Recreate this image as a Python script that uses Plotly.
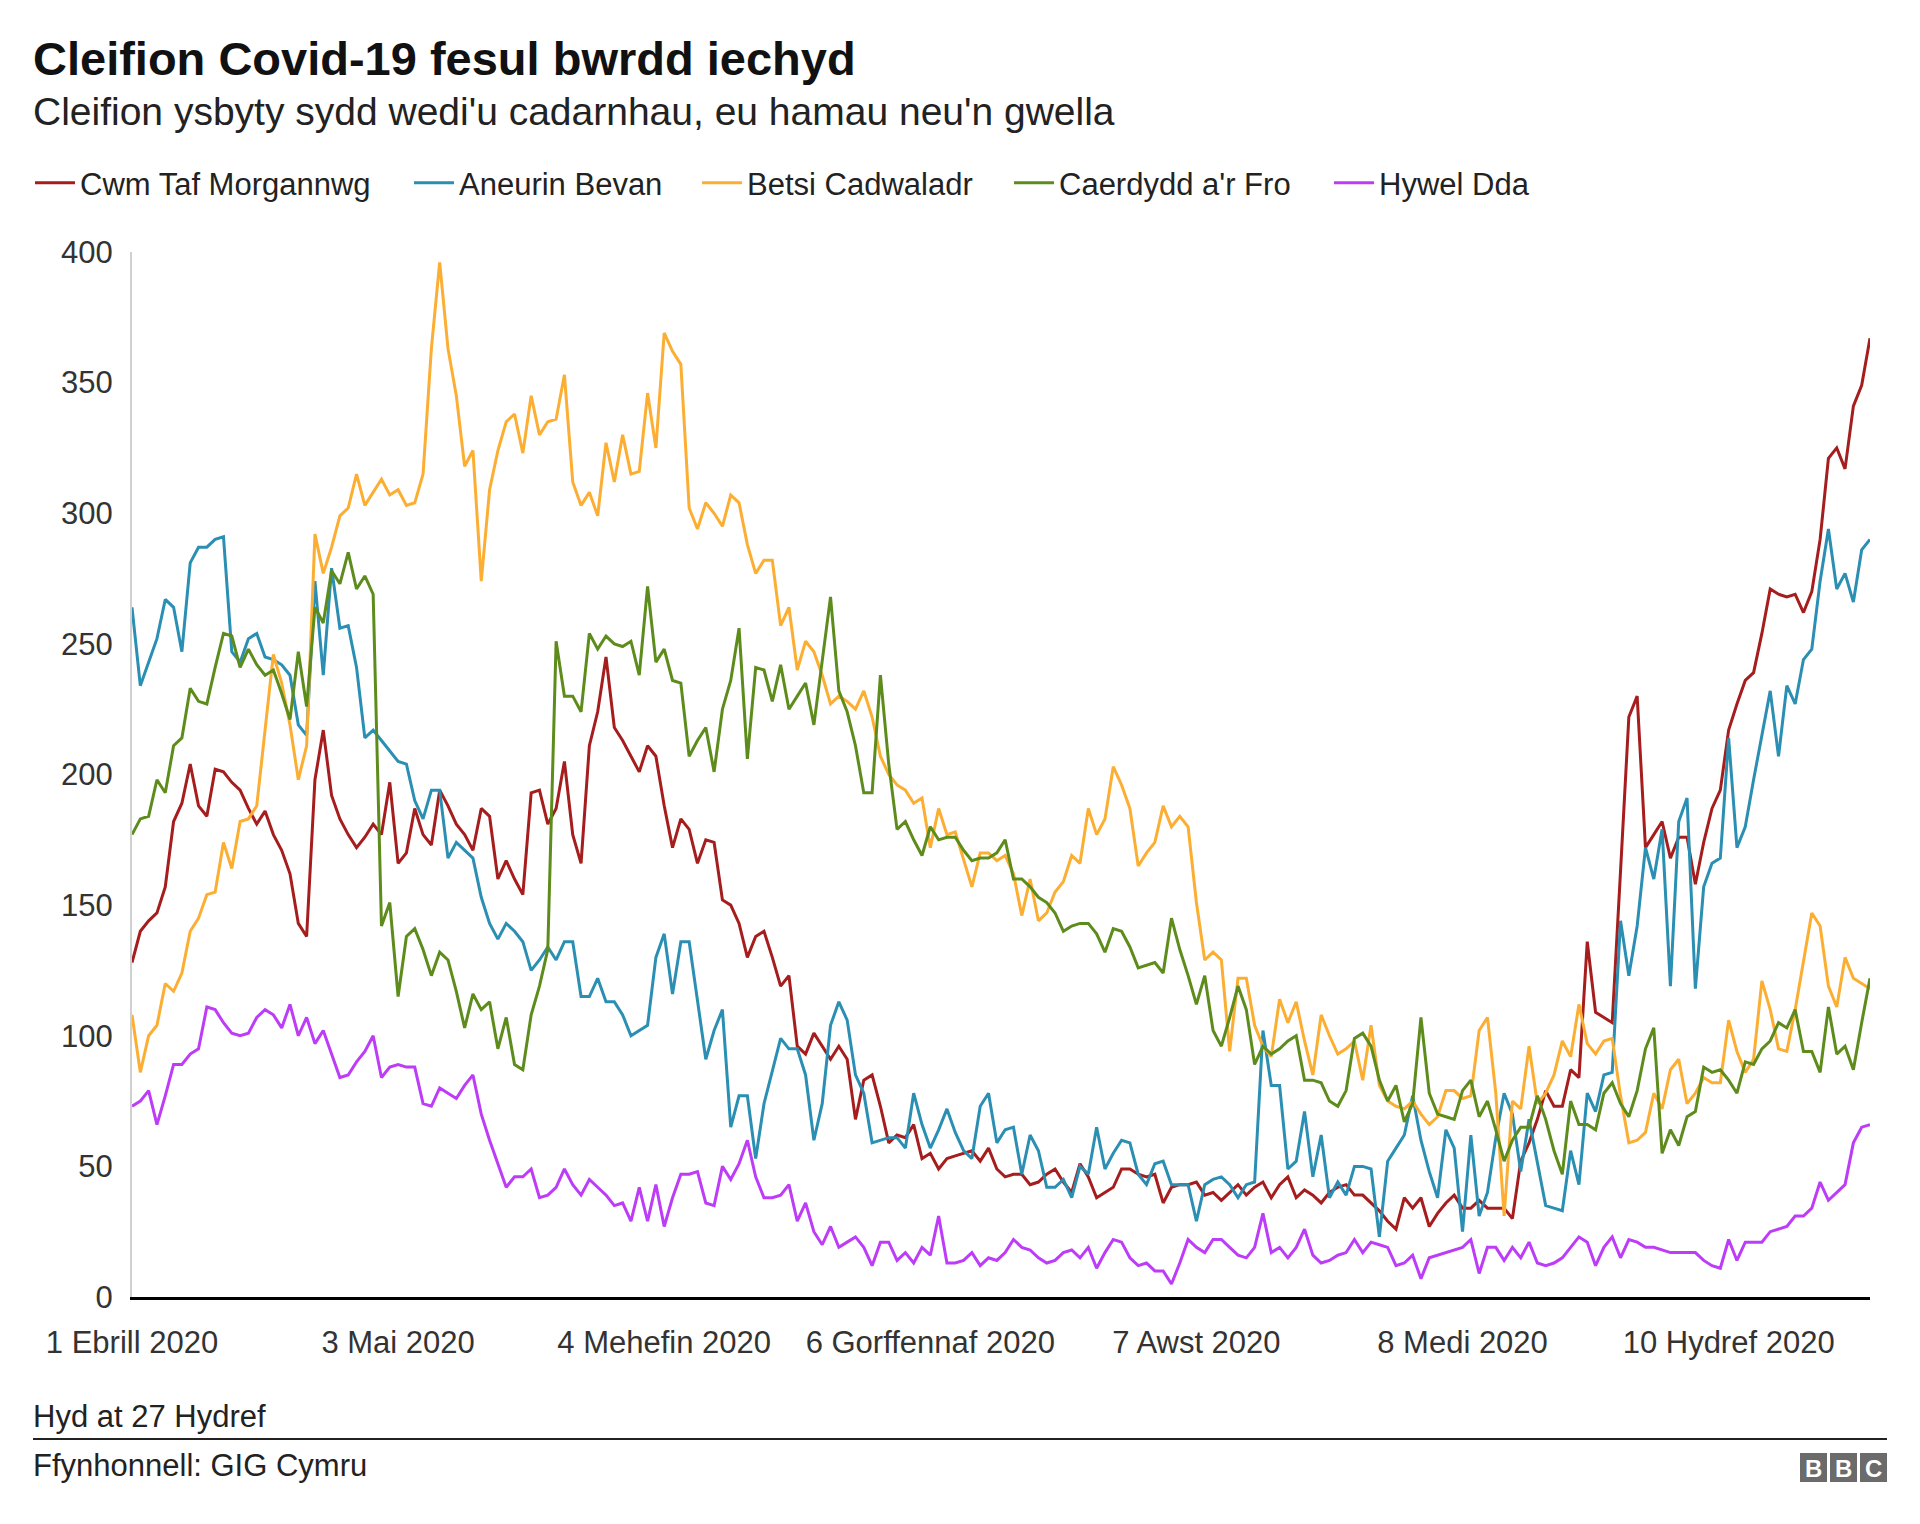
import pandas as pd
import plotly.graph_objects as go

# ---------------- data ----------------
start_date = "2020-04-01"
n_days = 210
dates = pd.date_range(start_date, periods=n_days, freq="D")

series_names = ["Cwm Taf Morgannwg", "Aneurin Bevan", "Betsi Cadwaladr",
                "Caerdydd a'r Fro", "Hywel Dda"]

cwm_taf = [128, 140, 144, 147, 157, 182, 189, 204, 188, 184, 202, 201, 197, 194, 187, 181, 186, 177, 171, 162, 143, 138, 198, 217, 192, 183, 177,
           172, 176, 181, 177, 197, 166, 170, 187, 177, 173, 194, 188, 181, 177, 171, 187, 184, 160, 167, 160, 154, 193, 194, 181, 187, 205,
           177, 166, 211, 224, 245, 218, 213, 207, 201, 211, 207, 188, 172, 183, 179, 166, 175, 174, 152, 150, 143, 130, 138, 140, 130, 119, 123,
           96, 93, 101, 96, 91, 96, 91, 68, 83, 85, 73, 59, 62, 61, 66, 53, 55, 49, 53, 54, 55, 56, 52, 57, 49, 46,
           47, 47, 43, 44, 47, 49, 44, 40, 51, 46, 38, 40, 42, 49, 49, 47, 46, 47, 36, 42, 43, 43, 44, 39, 40, 37, 40,
           43, 39, 42, 44, 38, 43, 46, 38, 41, 39, 36, 40, 42, 43, 39, 39, 36, 33, 29, 26, 38, 34, 38, 27, 32, 36,
           39, 34, 34, 37, 34, 34, 34, 30, 52, 59, 68, 79, 73, 73, 87, 84, 136, 109, 107, 105,
           163, 222, 230, 172, 177, 182, 168,
           176, 176, 158, 174, 187, 194, 217, 227, 236, 239, 254, 271, 269, 268, 269, 262, 270, 290, 321, 325, 317, 341, 349, 367]

aneurin_bevan = [264, 234, 243, 252, 267, 264, 247, 281, 287, 287, 290, 291, 247, 243, 252, 254, 245, 244, 242, 238, 219, 215, 274, 238, 279, 256, 257,
                 241, 214, 217, 213, 209, 205, 204, 190, 183, 194, 194, 168, 174, 171, 168, 153, 143, 137, 143, 140, 136, 125, 129, 134, 129, 136,
                 136, 115, 115, 122, 113, 113, 108, 100, 102, 104, 130, 139, 116, 136, 136, 113, 91, 102, 110, 65, 77, 77, 53, 74, 87, 99, 95,
                 95, 85, 60, 74, 104, 113, 106, 85, 78, 59, 60, 61, 61, 57, 78, 66, 57, 64, 72, 63, 56, 53, 73, 78, 59, 64,
                 65, 47, 62, 56, 42, 42, 45, 38, 50, 47, 65, 49, 55, 60, 59, 47, 43, 51, 52, 43, 43, 43, 29, 43, 45, 46, 43,
                 38, 43, 44, 102, 81, 81, 49, 52, 71, 46, 62, 38, 44, 39, 50, 50, 49, 23, 52, 57, 62, 77, 60, 48, 38, 64,
                 57, 25, 62, 31, 40, 61, 78, 70, 48, 68, 52, 35, 34, 33, 56, 43, 78, 71, 85, 86,
                 144, 123, 142, 172, 160, 179, 119,
                 182, 191, 118, 157, 166, 168, 214, 172, 180, 198, 215, 232, 207, 234, 227, 244, 248, 274, 294, 271, 277, 266, 286, 290]

betsi_cadwaladr = [108, 86, 100, 104, 120, 117, 124, 140, 145, 154, 155, 174, 164, 182, 183, 188, 217, 246, 235, 219, 198, 211, 292, 277, 287, 299, 302,
                   315, 303, 308, 313, 307, 309, 303, 304, 315, 363, 396, 363, 345, 318, 324, 274, 309, 324, 335, 338, 323, 345, 330, 335, 336, 353,
                   312, 303, 308, 299, 327, 312, 330, 315, 316, 346, 325, 369, 362, 357, 302, 294, 304, 300, 295, 307, 304, 288, 277, 282, 282, 257, 264,
                   240, 251, 247, 238, 227, 230, 228, 225, 232, 222, 207, 200, 196, 194, 189, 191, 172, 187, 177, 178, 167, 157, 170, 170, 167, 169,
                   162, 146, 160, 144, 147, 155, 159, 169, 166, 187, 177, 183, 203, 196, 187, 165, 170, 174, 188, 180, 184, 180, 151, 129, 132, 129, 94,
                   122, 122, 104, 96, 92, 114, 105, 113, 98, 85, 108, 100, 93, 95, 98, 83, 104, 81, 75, 73, 72, 75, 70, 66, 69, 79,
                   79, 76, 77, 102, 107, 78, 31, 75, 72, 96, 74, 78, 85, 98, 92, 112, 97, 93, 98, 99,
                   77, 59, 60, 63, 78, 72, 87,
                   91, 74, 78, 84, 82, 82, 106, 94, 86, 91, 121, 110, 95, 94, 110, 129, 147, 142, 119, 111, 130, 122, 120, 118]

caerdydd_a_r_fro = [177, 183, 184, 198, 193, 211, 214, 233, 228, 227, 241, 254, 253, 241, 248, 242, 238, 240, 231, 221, 247, 226, 264, 258, 278, 273, 285,
                    271, 276, 269, 142, 151, 115, 138, 141, 133, 123, 132, 129, 117, 103, 116, 110, 113, 95, 107, 89, 87, 108, 119, 133, 251, 230,
                    230, 224, 254, 248, 253, 250, 249, 251, 238, 272, 243, 248, 236, 235, 207, 213, 218, 201, 225, 236, 256, 206, 241, 240, 228, 242, 225,
                    230, 235, 219, 244, 268, 232, 224, 211, 193, 193, 238, 204, 179, 182, 175, 169, 180, 175, 176, 176, 171, 167, 168, 168, 170, 175,
                    160, 160, 157, 153, 151, 147, 140, 142, 143, 143, 139, 132, 141, 140, 134, 126, 127, 128, 124, 145, 133, 123, 112, 123, 102, 96, 107,
                    119, 110, 89, 96, 93, 95, 98, 100, 83, 83, 82, 75, 73, 79, 99, 101, 96, 83, 75, 81, 67, 74, 107, 78, 70, 69,
                    68, 79, 83, 69, 75, 64, 52, 60, 65, 65, 77, 68, 56, 47, 75, 66, 66, 64, 78, 82,
                    74, 69, 79, 95, 103, 55, 64,
                    58, 69, 71, 88, 86, 87, 83, 78, 90, 89, 95, 98, 105, 103, 110, 94, 94, 86, 111, 93, 96, 87, 105, 122]

hywel_dda = [73, 75, 79, 66, 77, 89, 89, 93, 95, 111, 110, 105, 101, 100, 101, 107, 110, 108, 103, 112, 100, 107, 97, 102, 93, 84, 85,
             90, 94, 100, 84, 88, 89, 88, 88, 74, 73, 80, 78, 76, 81, 85, 70, 60, 51, 42, 46, 46, 49, 38, 39, 42, 49,
             43, 39, 45, 42, 39, 35, 36, 29, 42, 29, 43, 27, 38, 47, 47, 48, 36, 35, 50, 45, 51, 60, 46, 38, 38, 39, 43,
             29, 36, 25, 20, 27, 19, 21, 23, 19, 12, 21, 21, 14, 17, 13, 19, 16, 31, 13, 13, 14, 17, 12, 15, 14, 17,
             22, 19, 18, 15, 13, 14, 17, 18, 15, 19, 11, 17, 22, 21, 15, 12, 13, 10, 10, 5, 13, 22, 19, 17, 22, 22, 19,
             16, 15, 19, 32, 17, 19, 15, 19, 26, 16, 13, 14, 16, 17, 22, 17, 21, 20, 19, 12, 13, 16, 7, 15, 16, 17,
             18, 19, 22, 9, 19, 19, 14, 19, 15, 21, 13, 12, 13, 15, 19, 23, 21, 12, 19, 23,
             15, 22, 21, 19, 19, 18, 17,
             17, 17, 17, 14, 12, 11, 22, 14, 21, 21, 21, 25, 26, 27, 31, 31, 34, 44, 37, 40, 43, 59, 65, 66]

series_values = [cwm_taf, aneurin_bevan, betsi_cadwaladr, caerdydd_a_r_fro, hywel_dda]
series_colors = ["#a51d1d", "#2a8fb3", "#fcae33", "#5e8c1c", "#bd3cf8"]

tick_dates = ["2020-04-01", "2020-05-03", "2020-06-04", "2020-07-06",
              "2020-08-07", "2020-09-08", "2020-10-10"]
tick_labels = ["1 Ebrill 2020", "3 Mai 2020", "4 Mehefin 2020", "6 Gorffennaf 2020",
               "7 Awst 2020", "8 Medi 2020", "10 Hydref 2020"]
y_ticks = [0, 50, 100, 150, 200, 250, 300, 350, 400]

title_text = "Cleifion Covid-19 fesul bwrdd iechyd"
subtitle_text = "Cleifion ysbyty sydd wedi'u cadarnhau, eu hamau neu'n gwella"
note_text = "Hyd at 27 Hydref"
source_text = "Ffynhonnell: GIG Cymru"

# ---------------- layout geometry ----------------
W, H = 1920, 1524
L, R, T, B = 132, 50, 252, 227
PW, PH = W - L - R, H - T - B
FONT = "Liberation Sans, Arial, Helvetica, sans-serif"
legend_left_px = [30, 409, 697, 1009, 1329]


def px(x):
    return (x - L) / PW


def py(y):
    return (H - B - y) / PH


fig = go.Figure()
legend_ids = ["legend"] + ["legend%d" % (i + 1) for i in range(1, len(series_names))]
for name, vals, col, lid in zip(series_names, series_values, series_colors, legend_ids):
    fig.add_trace(go.Scatter(x=dates, y=vals, name=name, mode="lines", legend=lid,
                             line=dict(color=col, width=3)))

annotations = [
    dict(text="<b>" + title_text + "</b>", x=px(31), y=py(58), xanchor="left", yanchor="middle",
         font=dict(size=47, color="#111111", family=FONT)),
    dict(text=subtitle_text, x=px(31), y=py(112), xanchor="left", yanchor="middle",
         font=dict(size=39, color="#222222", family=FONT)),
    dict(text=note_text, x=px(31), y=py(1416), xanchor="left", yanchor="middle",
         font=dict(size=31, color="#222222", family=FONT)),
    dict(text=source_text, x=px(31), y=py(1465), xanchor="left", yanchor="middle",
         font=dict(size=31, color="#222222", family=FONT)),
]
shapes = [
    dict(type="line", xref="paper", yref="paper", x0=px(33), x1=px(1887), y0=py(1439), y1=py(1439),
         line=dict(color="#222222", width=2)),
]
# BBC blocks
for i, letter in enumerate(["B", "B", "C"]):
    x0 = 1800 + i * 30
    shapes.append(dict(type="rect", xref="paper", yref="paper", x0=px(x0), x1=px(x0 + 27),
                       y0=py(1482), y1=py(1453), line=dict(width=0), fillcolor="#6b6b6b"))
    annotations.append(dict(text="<b>" + letter + "</b>", x=px(x0 + 13.5), y=py(1468),
                            xanchor="center", yanchor="middle", showarrow=False,
                            font=dict(size=24, color="white", family=FONT)))

for a in annotations:
    a.setdefault("showarrow", False)
    a["xref"] = "paper"
    a["yref"] = "paper"

legend_layouts = {}
for lid, lx in zip(legend_ids, legend_left_px):
    legend_layouts[lid] = dict(orientation="h", xref="container", yref="container",
                               x=lx / W, y=1 - 183 / H, xanchor="left", yanchor="middle",
                               font=dict(size=31, color="#222222", family=FONT),
                               itemwidth=40, bgcolor="rgba(0,0,0,0)", borderwidth=0)

fig.update_layout(
    width=W, height=H, autosize=False,
    margin=dict(l=L, r=R, t=T, b=B, pad=0),
    paper_bgcolor="white", plot_bgcolor="white",
    font=dict(family=FONT, color="#222222"),
    showlegend=True,
    hovermode=False,
    annotations=annotations,
    shapes=shapes,
    xaxis=dict(type="date", range=[dates[0], dates[-1]], tickvals=tick_dates, ticktext=tick_labels,
               showgrid=False, zeroline=False, showline=True, linecolor="#000000", linewidth=3,
               ticks="", ticklabelstandoff=16,
               tickfont=dict(size=31, color="#333333", family=FONT)),
    yaxis=dict(range=[0, 400], tickvals=y_ticks, showgrid=False, zeroline=False,
               showline=True, linecolor="#d0d0d0", linewidth=2, ticks="",
               ticklabelstandoff=11,
               tickfont=dict(size=31, color="#333333", family=FONT)),
    **legend_layouts,
)

fig.write_html("out.html", config={"displayModeBar": False},
               post_script="document.body.style.margin='0';document.body.style.padding='0';")
